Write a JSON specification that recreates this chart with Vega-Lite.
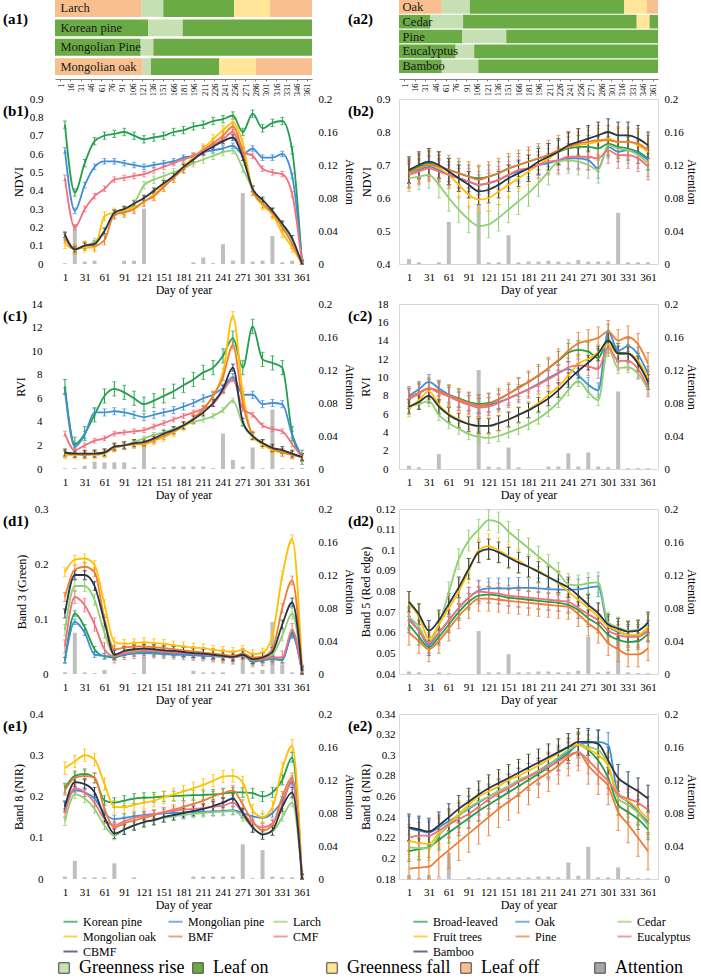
{
"$schema":"https://vega.github.io/schema/vega-lite/v6.json",
"padding":{"left":3,"top":0,"right":0,"bottom":0},
"autosize":{"type":"pad"},
"background":"white",
"config":{
 "view":{"stroke":null},
 "font":"Liberation Serif",
 "axis":{"labelFont":"Liberation Serif","titleFont":"Liberation Serif","labelFontSize":11,"titleFontSize":12,"titleFontWeight":"normal","labelColor":"#000","titleColor":"#000","grid":false,"ticks":false,"tickSize":0,"domain":false,"labelFlush":false,"labelOverlap":false},
 "range":{"category":["#21a04b","#3f8fd8","#92cf72","#ffc000","#ee7d31","#f2707c","#263548"]},
 "legend":{"labelFont":"Liberation Serif","labelColor":"#000"},
 "title":{"font":"Liberation Serif","fontSize":15,"fontWeight":"bold","color":"#000"}
},
"datasets":{
"b1":[
{"s":"a","d":1,"v":0.76},{"s":"a","d":16,"v":0.39},{"s":"a","d":31,"v":0.55},{"s":"a","d":46,"v":0.67},{"s":"a","d":61,"v":0.7},{"s":"a","d":76,"v":0.71},{"s":"a","d":91,"v":0.72},{"s":"a","d":106,"v":0.7},{"s":"a","d":121,"v":0.68},{"s":"a","d":136,"v":0.69},{"s":"a","d":151,"v":0.7},{"s":"a","d":166,"v":0.72},{"s":"a","d":181,"v":0.73},{"s":"a","d":196,"v":0.75},{"s":"a","d":211,"v":0.76},{"s":"a","d":226,"v":0.78},{"s":"a","d":241,"v":0.79},{"s":"a","d":256,"v":0.81},{"s":"a","d":271,"v":0.72},{"s":"a","d":286,"v":0.82},{"s":"a","d":301,"v":0.74},{"s":"a","d":316,"v":0.77},{"s":"a","d":331,"v":0.78},{"s":"a","d":346,"v":0.62},{"s":"a","d":361,"v":0},
{"s":"b","d":1,"v":0.62},{"s":"b","d":16,"v":0.29},{"s":"b","d":31,"v":0.43},{"s":"b","d":46,"v":0.53},{"s":"b","d":61,"v":0.56},{"s":"b","d":76,"v":0.56},{"s":"b","d":91,"v":0.55},{"s":"b","d":106,"v":0.54},{"s":"b","d":121,"v":0.53},{"s":"b","d":136,"v":0.54},{"s":"b","d":151,"v":0.55},{"s":"b","d":166,"v":0.56},{"s":"b","d":181,"v":0.58},{"s":"b","d":196,"v":0.59},{"s":"b","d":211,"v":0.61},{"s":"b","d":226,"v":0.62},{"s":"b","d":241,"v":0.63},{"s":"b","d":256,"v":0.645},{"s":"b","d":271,"v":0.6},{"s":"b","d":286,"v":0.63},{"s":"b","d":301,"v":0.58},{"s":"b","d":316,"v":0.58},{"s":"b","d":331,"v":0.6},{"s":"b","d":346,"v":0.48},{"s":"b","d":361,"v":0.01},
{"s":"c","d":1,"v":0.15},{"s":"c","d":16,"v":0.08},{"s":"c","d":31,"v":0.1},{"s":"c","d":46,"v":0.12},{"s":"c","d":61,"v":0.18},{"s":"c","d":76,"v":0.27},{"s":"c","d":91,"v":0.29},{"s":"c","d":106,"v":0.33},{"s":"c","d":121,"v":0.43},{"s":"c","d":136,"v":0.46},{"s":"c","d":151,"v":0.48},{"s":"c","d":166,"v":0.5},{"s":"c","d":181,"v":0.52},{"s":"c","d":196,"v":0.55},{"s":"c","d":211,"v":0.57},{"s":"c","d":226,"v":0.59},{"s":"c","d":241,"v":0.61},{"s":"c","d":256,"v":0.62},{"s":"c","d":271,"v":0.52},{"s":"c","d":286,"v":0.41},{"s":"c","d":301,"v":0.33},{"s":"c","d":316,"v":0.28},{"s":"c","d":331,"v":0.21},{"s":"c","d":346,"v":0.12},{"s":"c","d":361,"v":0},
{"s":"d","d":1,"v":0.11},{"s":"d","d":16,"v":0.08},{"s":"d","d":31,"v":0.09},{"s":"d","d":46,"v":0.09},{"s":"d","d":61,"v":0.26},{"s":"d","d":76,"v":0.28},{"s":"d","d":91,"v":0.29},{"s":"d","d":106,"v":0.31},{"s":"d","d":121,"v":0.34},{"s":"d","d":136,"v":0.38},{"s":"d","d":151,"v":0.43},{"s":"d","d":166,"v":0.48},{"s":"d","d":181,"v":0.53},{"s":"d","d":196,"v":0.58},{"s":"d","d":211,"v":0.63},{"s":"d","d":226,"v":0.68},{"s":"d","d":241,"v":0.73},{"s":"d","d":256,"v":0.77},{"s":"d","d":271,"v":0.66},{"s":"d","d":286,"v":0.4},{"s":"d","d":301,"v":0.32},{"s":"d","d":316,"v":0.27},{"s":"d","d":331,"v":0.17},{"s":"d","d":346,"v":0.09},{"s":"d","d":361,"v":0},
{"s":"e","d":1,"v":0.14},{"s":"e","d":16,"v":0.08},{"s":"e","d":31,"v":0.1},{"s":"e","d":46,"v":0.1},{"s":"e","d":61,"v":0.13},{"s":"e","d":76,"v":0.27},{"s":"e","d":91,"v":0.28},{"s":"e","d":106,"v":0.3},{"s":"e","d":121,"v":0.34},{"s":"e","d":136,"v":0.37},{"s":"e","d":151,"v":0.42},{"s":"e","d":166,"v":0.47},{"s":"e","d":181,"v":0.52},{"s":"e","d":196,"v":0.57},{"s":"e","d":211,"v":0.62},{"s":"e","d":226,"v":0.66},{"s":"e","d":241,"v":0.7},{"s":"e","d":256,"v":0.75},{"s":"e","d":271,"v":0.61},{"s":"e","d":286,"v":0.4},{"s":"e","d":301,"v":0.33},{"s":"e","d":316,"v":0.28},{"s":"e","d":331,"v":0.2},{"s":"e","d":346,"v":0.11},{"s":"e","d":361,"v":0},
{"s":"f","d":1,"v":0.47},{"s":"f","d":16,"v":0.2},{"s":"f","d":31,"v":0.3},{"s":"f","d":46,"v":0.37},{"s":"f","d":61,"v":0.41},{"s":"f","d":76,"v":0.46},{"s":"f","d":91,"v":0.47},{"s":"f","d":106,"v":0.48},{"s":"f","d":121,"v":0.49},{"s":"f","d":136,"v":0.51},{"s":"f","d":151,"v":0.53},{"s":"f","d":166,"v":0.55},{"s":"f","d":181,"v":0.57},{"s":"f","d":196,"v":0.59},{"s":"f","d":211,"v":0.62},{"s":"f","d":226,"v":0.65},{"s":"f","d":241,"v":0.68},{"s":"f","d":256,"v":0.72},{"s":"f","d":271,"v":0.61},{"s":"f","d":286,"v":0.59},{"s":"f","d":301,"v":0.52},{"s":"f","d":316,"v":0.5},{"s":"f","d":331,"v":0.49},{"s":"f","d":346,"v":0.38},{"s":"f","d":361,"v":0},
{"s":"g","d":1,"v":0.16},{"s":"g","d":16,"v":0.08},{"s":"g","d":31,"v":0.1},{"s":"g","d":46,"v":0.11},{"s":"g","d":61,"v":0.18},{"s":"g","d":76,"v":0.28},{"s":"g","d":91,"v":0.3},{"s":"g","d":106,"v":0.33},{"s":"g","d":121,"v":0.36},{"s":"g","d":136,"v":0.4},{"s":"g","d":151,"v":0.44},{"s":"g","d":166,"v":0.48},{"s":"g","d":181,"v":0.53},{"s":"g","d":196,"v":0.57},{"s":"g","d":211,"v":0.61},{"s":"g","d":226,"v":0.64},{"s":"g","d":241,"v":0.67},{"s":"g","d":256,"v":0.69},{"s":"g","d":271,"v":0.58},{"s":"g","d":286,"v":0.41},{"s":"g","d":301,"v":0.35},{"s":"g","d":316,"v":0.29},{"s":"g","d":331,"v":0.22},{"s":"g","d":346,"v":0.14},{"s":"g","d":361,"v":0}],
"b1e":[{"s":"a","e":0.02},{"s":"b","e":0.015},{"s":"c","e":0.02},{"s":"d","e":0.025},{"s":"e","e":0.025},{"s":"f","e":0.015},{"s":"g","e":0.015}],
"b1a":[{"d":1,"a":0.001},{"d":16,"a":0.048},{"d":31,"a":0.003},{"d":46,"a":0.004},{"d":61,"a":0},{"d":76,"a":0},{"d":91,"a":0.004},{"d":106,"a":0.004},{"d":121,"a":0.067},{"d":136,"a":0},{"d":151,"a":0},{"d":166,"a":0},{"d":181,"a":0},{"d":196,"a":0.002},{"d":211,"a":0.008},{"d":226,"a":0.001},{"d":241,"a":0.024},{"d":256,"a":0.004},{"d":271,"a":0.086},{"d":286,"a":0.003},{"d":301,"a":0.004},{"d":316,"a":0.034},{"d":331,"a":0.002},{"d":346,"a":0.004},{"d":361,"a":0.002}],
"b2":[
{"s":"a","d":1,"v":0.68},{"s":"a","d":16,"v":0.695},{"s":"a","d":31,"v":0.705},{"s":"a","d":46,"v":0.695},{"s":"a","d":61,"v":0.685},{"s":"a","d":76,"v":0.675},{"s":"a","d":91,"v":0.665},{"s":"a","d":106,"v":0.66},{"s":"a","d":121,"v":0.665},{"s":"a","d":136,"v":0.675},{"s":"a","d":151,"v":0.69},{"s":"a","d":166,"v":0.7},{"s":"a","d":181,"v":0.71},{"s":"a","d":196,"v":0.72},{"s":"a","d":211,"v":0.73},{"s":"a","d":226,"v":0.74},{"s":"a","d":241,"v":0.75},{"s":"a","d":256,"v":0.755},{"s":"a","d":271,"v":0.755},{"s":"a","d":286,"v":0.75},{"s":"a","d":301,"v":0.765},{"s":"a","d":316,"v":0.755},{"s":"a","d":331,"v":0.75},{"s":"a","d":346,"v":0.74},{"s":"a","d":361,"v":0.72},
{"s":"b","d":1,"v":0.675},{"s":"b","d":16,"v":0.685},{"s":"b","d":31,"v":0.695},{"s":"b","d":46,"v":0.685},{"s":"b","d":61,"v":0.67},{"s":"b","d":76,"v":0.66},{"s":"b","d":91,"v":0.65},{"s":"b","d":106,"v":0.64},{"s":"b","d":121,"v":0.645},{"s":"b","d":136,"v":0.655},{"s":"b","d":151,"v":0.67},{"s":"b","d":166,"v":0.68},{"s":"b","d":181,"v":0.69},{"s":"b","d":196,"v":0.7},{"s":"b","d":211,"v":0.705},{"s":"b","d":226,"v":0.715},{"s":"b","d":241,"v":0.72},{"s":"b","d":256,"v":0.72},{"s":"b","d":271,"v":0.715},{"s":"b","d":286,"v":0.69},{"s":"b","d":301,"v":0.755},{"s":"b","d":316,"v":0.74},{"s":"b","d":331,"v":0.745},{"s":"b","d":346,"v":0.735},{"s":"b","d":361,"v":0.715},
{"s":"c","d":1,"v":0.66},{"s":"c","d":16,"v":0.665},{"s":"c","d":31,"v":0.67},{"s":"c","d":46,"v":0.64},{"s":"c","d":61,"v":0.6},{"s":"c","d":76,"v":0.565},{"s":"c","d":91,"v":0.535},{"s":"c","d":106,"v":0.515},{"s":"c","d":121,"v":0.52},{"s":"c","d":136,"v":0.54},{"s":"c","d":151,"v":0.565},{"s":"c","d":166,"v":0.59},{"s":"c","d":181,"v":0.615},{"s":"c","d":196,"v":0.645},{"s":"c","d":211,"v":0.68},{"s":"c","d":226,"v":0.71},{"s":"c","d":241,"v":0.715},{"s":"c","d":256,"v":0.71},{"s":"c","d":271,"v":0.7},{"s":"c","d":286,"v":0.685},{"s":"c","d":301,"v":0.76},{"s":"c","d":316,"v":0.75},{"s":"c","d":331,"v":0.745},{"s":"c","d":346,"v":0.73},{"s":"c","d":361,"v":0.705},
{"s":"d","d":1,"v":0.675},{"s":"d","d":16,"v":0.69},{"s":"d","d":31,"v":0.7},{"s":"d","d":46,"v":0.69},{"s":"d","d":61,"v":0.67},{"s":"d","d":76,"v":0.64},{"s":"d","d":91,"v":0.61},{"s":"d","d":106,"v":0.595},{"s":"d","d":121,"v":0.6},{"s":"d","d":136,"v":0.62},{"s":"d","d":151,"v":0.64},{"s":"d","d":166,"v":0.66},{"s":"d","d":181,"v":0.68},{"s":"d","d":196,"v":0.7},{"s":"d","d":211,"v":0.72},{"s":"d","d":226,"v":0.74},{"s":"d","d":241,"v":0.755},{"s":"d","d":256,"v":0.76},{"s":"d","d":271,"v":0.765},{"s":"d","d":286,"v":0.77},{"s":"d","d":301,"v":0.78},{"s":"d","d":316,"v":0.77},{"s":"d","d":331,"v":0.77},{"s":"d","d":346,"v":0.76},{"s":"d","d":361,"v":0.74},
{"s":"e","d":1,"v":0.675},{"s":"e","d":16,"v":0.69},{"s":"e","d":31,"v":0.7},{"s":"e","d":46,"v":0.695},{"s":"e","d":61,"v":0.685},{"s":"e","d":76,"v":0.675},{"s":"e","d":91,"v":0.665},{"s":"e","d":106,"v":0.655},{"s":"e","d":121,"v":0.665},{"s":"e","d":136,"v":0.675},{"s":"e","d":151,"v":0.69},{"s":"e","d":166,"v":0.7},{"s":"e","d":181,"v":0.71},{"s":"e","d":196,"v":0.72},{"s":"e","d":211,"v":0.73},{"s":"e","d":226,"v":0.745},{"s":"e","d":241,"v":0.755},{"s":"e","d":256,"v":0.765},{"s":"e","d":271,"v":0.77},{"s":"e","d":286,"v":0.775},{"s":"e","d":301,"v":0.775},{"s":"e","d":316,"v":0.77},{"s":"e","d":331,"v":0.77},{"s":"e","d":346,"v":0.765},{"s":"e","d":361,"v":0.745},
{"s":"f","d":1,"v":0.67},{"s":"f","d":16,"v":0.68},{"s":"f","d":31,"v":0.69},{"s":"f","d":46,"v":0.68},{"s":"f","d":61,"v":0.67},{"s":"f","d":76,"v":0.66},{"s":"f","d":91,"v":0.65},{"s":"f","d":106,"v":0.64},{"s":"f","d":121,"v":0.645},{"s":"f","d":136,"v":0.655},{"s":"f","d":151,"v":0.67},{"s":"f","d":166,"v":0.685},{"s":"f","d":181,"v":0.69},{"s":"f","d":196,"v":0.7},{"s":"f","d":211,"v":0.71},{"s":"f","d":226,"v":0.715},{"s":"f","d":241,"v":0.725},{"s":"f","d":256,"v":0.725},{"s":"f","d":271,"v":0.725},{"s":"f","d":286,"v":0.72},{"s":"f","d":301,"v":0.745},{"s":"f","d":316,"v":0.73},{"s":"f","d":331,"v":0.73},{"s":"f","d":346,"v":0.72},{"s":"f","d":361,"v":0.695},
{"s":"g","d":1,"v":0.685},{"s":"g","d":16,"v":0.7},{"s":"g","d":31,"v":0.71},{"s":"g","d":46,"v":0.7},{"s":"g","d":61,"v":0.68},{"s":"g","d":76,"v":0.66},{"s":"g","d":91,"v":0.64},{"s":"g","d":106,"v":0.62},{"s":"g","d":121,"v":0.625},{"s":"g","d":136,"v":0.64},{"s":"g","d":151,"v":0.66},{"s":"g","d":166,"v":0.675},{"s":"g","d":181,"v":0.69},{"s":"g","d":196,"v":0.71},{"s":"g","d":211,"v":0.725},{"s":"g","d":226,"v":0.74},{"s":"g","d":241,"v":0.76},{"s":"g","d":256,"v":0.77},{"s":"g","d":271,"v":0.78},{"s":"g","d":286,"v":0.79},{"s":"g","d":301,"v":0.8},{"s":"g","d":316,"v":0.79},{"s":"g","d":331,"v":0.79},{"s":"g","d":346,"v":0.78},{"s":"g","d":361,"v":0.76}],
"b2e":[{"s":"a","e":0.035},{"s":"b","e":0.03},{"s":"c","e":0.04},{"s":"d","e":0.04},{"s":"e","e":0.045},{"s":"f","e":0.04},{"s":"g","e":0.04}],
"b2a":[{"d":1,"a":0.006},{"d":16,"a":0.002},{"d":31,"a":0},{"d":46,"a":0.002},{"d":61,"a":0.051},{"d":76,"a":0},{"d":91,"a":0},{"d":106,"a":0.072},{"d":121,"a":0.002},{"d":136,"a":0.002},{"d":151,"a":0.035},{"d":166,"a":0.002},{"d":181,"a":0.003},{"d":196,"a":0.003},{"d":211,"a":0.004},{"d":226,"a":0.003},{"d":241,"a":0.002},{"d":256,"a":0.005},{"d":271,"a":0.003},{"d":286,"a":0.003},{"d":301,"a":0.003},{"d":316,"a":0.062},{"d":331,"a":0.002},{"d":346,"a":0.002},{"d":361,"a":0.002}],
"c1":[
{"s":"a","d":1,"v":7},{"s":"a","d":16,"v":2.1},{"s":"a","d":31,"v":3},{"s":"a","d":46,"v":4.6},{"s":"a","d":61,"v":6.2},{"s":"a","d":76,"v":6.8},{"s":"a","d":91,"v":6.5},{"s":"a","d":106,"v":6},{"s":"a","d":121,"v":5.5},{"s":"a","d":136,"v":5.8},{"s":"a","d":151,"v":6.2},{"s":"a","d":166,"v":6.6},{"s":"a","d":181,"v":7.1},{"s":"a","d":196,"v":7.6},{"s":"a","d":211,"v":8.2},{"s":"a","d":226,"v":8.6},{"s":"a","d":241,"v":9.6},{"s":"a","d":256,"v":11.1},{"s":"a","d":271,"v":8.6},{"s":"a","d":286,"v":12.1},{"s":"a","d":301,"v":9.3},{"s":"a","d":316,"v":9},{"s":"a","d":331,"v":8.6},{"s":"a","d":346,"v":3},{"s":"a","d":361,"v":1},
{"s":"b","d":1,"v":6.6},{"s":"b","d":16,"v":1.9},{"s":"b","d":31,"v":2.9},{"s":"b","d":46,"v":4.8},{"s":"b","d":61,"v":4.8},{"s":"b","d":76,"v":4.9},{"s":"b","d":91,"v":4.8},{"s":"b","d":106,"v":4.6},{"s":"b","d":121,"v":4.4},{"s":"b","d":136,"v":4.6},{"s":"b","d":151,"v":4.8},{"s":"b","d":166,"v":5},{"s":"b","d":181,"v":5.3},{"s":"b","d":196,"v":5.6},{"s":"b","d":211,"v":6},{"s":"b","d":226,"v":6.3},{"s":"b","d":241,"v":6.9},{"s":"b","d":256,"v":7.8},{"s":"b","d":271,"v":6.3},{"s":"b","d":286,"v":6.3},{"s":"b","d":301,"v":5.5},{"s":"b","d":316,"v":5.6},{"s":"b","d":331,"v":5.5},{"s":"b","d":346,"v":2.9},{"s":"b","d":361,"v":1},
{"s":"c","d":1,"v":1.3},{"s":"c","d":16,"v":1.2},{"s":"c","d":31,"v":1.2},{"s":"c","d":46,"v":1.3},{"s":"c","d":61,"v":1.4},{"s":"c","d":76,"v":1.8},{"s":"c","d":91,"v":2},{"s":"c","d":106,"v":2.3},{"s":"c","d":121,"v":2.6},{"s":"c","d":136,"v":2.9},{"s":"c","d":151,"v":3.1},{"s":"c","d":166,"v":3.4},{"s":"c","d":181,"v":3.7},{"s":"c","d":196,"v":4},{"s":"c","d":211,"v":4.2},{"s":"c","d":226,"v":4.5},{"s":"c","d":241,"v":5},{"s":"c","d":256,"v":5.8},{"s":"c","d":271,"v":3.8},{"s":"c","d":286,"v":2.7},{"s":"c","d":301,"v":2.2},{"s":"c","d":316,"v":1.8},{"s":"c","d":331,"v":1.5},{"s":"c","d":346,"v":1.3},{"s":"c","d":361,"v":1},
{"s":"d","d":1,"v":1.2},{"s":"d","d":16,"v":1.2},{"s":"d","d":31,"v":1.2},{"s":"d","d":46,"v":1.2},{"s":"d","d":61,"v":1.3},{"s":"d","d":76,"v":1.8},{"s":"d","d":91,"v":2},{"s":"d","d":106,"v":2.1},{"s":"d","d":121,"v":2.1},{"s":"d","d":136,"v":2.4},{"s":"d","d":151,"v":2.7},{"s":"d","d":166,"v":3.1},{"s":"d","d":181,"v":3.6},{"s":"d","d":196,"v":4.2},{"s":"d","d":211,"v":5},{"s":"d","d":226,"v":6.2},{"s":"d","d":241,"v":8.2},{"s":"d","d":256,"v":13},{"s":"d","d":271,"v":6.5},{"s":"d","d":286,"v":2.8},{"s":"d","d":301,"v":2.1},{"s":"d","d":316,"v":1.6},{"s":"d","d":331,"v":1.4},{"s":"d","d":346,"v":1.2},{"s":"d","d":361,"v":1},
{"s":"e","d":1,"v":1.3},{"s":"e","d":16,"v":1.3},{"s":"e","d":31,"v":1.2},{"s":"e","d":46,"v":1.3},{"s":"e","d":61,"v":1.4},{"s":"e","d":76,"v":1.8},{"s":"e","d":91,"v":2},{"s":"e","d":106,"v":2.1},{"s":"e","d":121,"v":2.2},{"s":"e","d":136,"v":2.5},{"s":"e","d":151,"v":2.8},{"s":"e","d":166,"v":3.2},{"s":"e","d":181,"v":3.7},{"s":"e","d":196,"v":4.3},{"s":"e","d":211,"v":5.1},{"s":"e","d":226,"v":6.2},{"s":"e","d":241,"v":7.8},{"s":"e","d":256,"v":10.5},{"s":"e","d":271,"v":5.6},{"s":"e","d":286,"v":2.9},{"s":"e","d":301,"v":2.2},{"s":"e","d":316,"v":1.7},{"s":"e","d":331,"v":1.4},{"s":"e","d":346,"v":1.2},{"s":"e","d":361,"v":1},
{"s":"f","d":1,"v":3},{"s":"f","d":16,"v":1.6},{"s":"f","d":31,"v":2},{"s":"f","d":46,"v":2.4},{"s":"f","d":61,"v":2.6},{"s":"f","d":76,"v":3},{"s":"f","d":91,"v":3.1},{"s":"f","d":106,"v":3.2},{"s":"f","d":121,"v":3.3},{"s":"f","d":136,"v":3.6},{"s":"f","d":151,"v":3.9},{"s":"f","d":166,"v":4.2},{"s":"f","d":181,"v":4.5},{"s":"f","d":196,"v":4.8},{"s":"f","d":211,"v":5.1},{"s":"f","d":226,"v":5.5},{"s":"f","d":241,"v":6.6},{"s":"f","d":256,"v":7.6},{"s":"f","d":271,"v":5.1},{"s":"f","d":286,"v":4.6},{"s":"f","d":301,"v":3.7},{"s":"f","d":316,"v":3.4},{"s":"f","d":331,"v":3.2},{"s":"f","d":346,"v":2.1},{"s":"f","d":361,"v":1},
{"s":"g","d":1,"v":1.4},{"s":"g","d":16,"v":1.3},{"s":"g","d":31,"v":1.3},{"s":"g","d":46,"v":1.3},{"s":"g","d":61,"v":1.4},{"s":"g","d":76,"v":1.9},{"s":"g","d":91,"v":2},{"s":"g","d":106,"v":2.2},{"s":"g","d":121,"v":2.3},{"s":"g","d":136,"v":2.6},{"s":"g","d":151,"v":3},{"s":"g","d":166,"v":3.3},{"s":"g","d":181,"v":3.7},{"s":"g","d":196,"v":4.2},{"s":"g","d":211,"v":4.8},{"s":"g","d":226,"v":5.6},{"s":"g","d":241,"v":6.8},{"s":"g","d":256,"v":8.6},{"s":"g","d":271,"v":4},{"s":"g","d":286,"v":2.8},{"s":"g","d":301,"v":2.2},{"s":"g","d":316,"v":1.8},{"s":"g","d":331,"v":1.6},{"s":"g","d":346,"v":1.3},{"s":"g","d":361,"v":1}],
"c1e":[{"s":"a","e":0.6},{"s":"b","e":0.3},{"s":"c","e":0.2},{"s":"d","e":0.35},{"s":"e","e":0.3},{"s":"f","e":0.2},{"s":"g","e":0.3}],
"c1a":[{"d":1,"a":0.001},{"d":16,"a":0.001},{"d":31,"a":0.004},{"d":46,"a":0.009},{"d":61,"a":0.008},{"d":76,"a":0.008},{"d":91,"a":0.008},{"d":106,"a":0.002},{"d":121,"a":0.03},{"d":136,"a":0.002},{"d":151,"a":0.002},{"d":166,"a":0.003},{"d":181,"a":0.003},{"d":196,"a":0.003},{"d":211,"a":0.003},{"d":226,"a":0.001},{"d":241,"a":0.043},{"d":256,"a":0.011},{"d":271,"a":0.003},{"d":286,"a":0.026},{"d":301,"a":0.001},{"d":316,"a":0.072},{"d":331,"a":0.001},{"d":346,"a":0.001},{"d":361,"a":0.001}],
"c2":[
{"s":"a","d":1,"v":7.8},{"s":"a","d":16,"v":8.3},{"s":"a","d":31,"v":8.8},{"s":"a","d":46,"v":8.5},{"s":"a","d":61,"v":8.1},{"s":"a","d":76,"v":7.7},{"s":"a","d":91,"v":7.3},{"s":"a","d":106,"v":7.1},{"s":"a","d":121,"v":7.2},{"s":"a","d":136,"v":7.6},{"s":"a","d":151,"v":8.2},{"s":"a","d":166,"v":8.9},{"s":"a","d":181,"v":9.5},{"s":"a","d":196,"v":10.2},{"s":"a","d":211,"v":11},{"s":"a","d":226,"v":11.8},{"s":"a","d":241,"v":12.7},{"s":"a","d":256,"v":13},{"s":"a","d":271,"v":12.8},{"s":"a","d":286,"v":12.1},{"s":"a","d":301,"v":14.1},{"s":"a","d":316,"v":12.7},{"s":"a","d":331,"v":12.6},{"s":"a","d":346,"v":11.6},{"s":"a","d":361,"v":9.7},
{"s":"b","d":1,"v":8},{"s":"b","d":16,"v":8.7},{"s":"b","d":31,"v":9.5},{"s":"b","d":46,"v":8.8},{"s":"b","d":61,"v":8.1},{"s":"b","d":76,"v":7.6},{"s":"b","d":91,"v":7.2},{"s":"b","d":106,"v":6.9},{"s":"b","d":121,"v":7},{"s":"b","d":136,"v":7.3},{"s":"b","d":151,"v":7.7},{"s":"b","d":166,"v":8.2},{"s":"b","d":181,"v":8.7},{"s":"b","d":196,"v":9.3},{"s":"b","d":211,"v":9.9},{"s":"b","d":226,"v":10.5},{"s":"b","d":241,"v":10.9},{"s":"b","d":256,"v":10.2},{"s":"b","d":271,"v":9.2},{"s":"b","d":286,"v":8.6},{"s":"b","d":301,"v":15},{"s":"b","d":316,"v":12.9},{"s":"b","d":331,"v":13.4},{"s":"b","d":346,"v":12.5},{"s":"b","d":361,"v":10.4},
{"s":"c","d":1,"v":6.8},{"s":"c","d":16,"v":7.1},{"s":"c","d":31,"v":7.4},{"s":"c","d":46,"v":5.9},{"s":"c","d":61,"v":5},{"s":"c","d":76,"v":4.4},{"s":"c","d":91,"v":3.8},{"s":"c","d":106,"v":3.5},{"s":"c","d":121,"v":3.4},{"s":"c","d":136,"v":3.6},{"s":"c","d":151,"v":4},{"s":"c","d":166,"v":4.4},{"s":"c","d":181,"v":4.9},{"s":"c","d":196,"v":5.5},{"s":"c","d":211,"v":6.3},{"s":"c","d":226,"v":7.3},{"s":"c","d":241,"v":8.6},{"s":"c","d":256,"v":9.6},{"s":"c","d":271,"v":8.4},{"s":"c","d":286,"v":7.5},{"s":"c","d":301,"v":13.2},{"s":"c","d":316,"v":11},{"s":"c","d":331,"v":11.1},{"s":"c","d":346,"v":10.4},{"s":"c","d":361,"v":8.7},
{"s":"d","d":1,"v":6.6},{"s":"d","d":16,"v":7.5},{"s":"d","d":31,"v":8.5},{"s":"d","d":46,"v":7},{"s":"d","d":61,"v":6},{"s":"d","d":76,"v":5.4},{"s":"d","d":91,"v":4.9},{"s":"d","d":106,"v":4.7},{"s":"d","d":121,"v":4.7},{"s":"d","d":136,"v":5},{"s":"d","d":151,"v":5.4},{"s":"d","d":166,"v":5.9},{"s":"d","d":181,"v":6.5},{"s":"d","d":196,"v":7.2},{"s":"d","d":211,"v":8.1},{"s":"d","d":226,"v":9},{"s":"d","d":241,"v":10.2},{"s":"d","d":256,"v":11.5},{"s":"d","d":271,"v":12},{"s":"d","d":286,"v":12.7},{"s":"d","d":301,"v":13.6},{"s":"d","d":316,"v":12.5},{"s":"d","d":331,"v":12.6},{"s":"d","d":346,"v":11.8},{"s":"d","d":361,"v":9.9},
{"s":"e","d":1,"v":7.8},{"s":"e","d":16,"v":8.3},{"s":"e","d":31,"v":8.8},{"s":"e","d":46,"v":8.5},{"s":"e","d":61,"v":8},{"s":"e","d":76,"v":7.6},{"s":"e","d":91,"v":7.2},{"s":"e","d":106,"v":6.9},{"s":"e","d":121,"v":7.1},{"s":"e","d":136,"v":7.6},{"s":"e","d":151,"v":8.2},{"s":"e","d":166,"v":8.8},{"s":"e","d":181,"v":9.5},{"s":"e","d":196,"v":10.2},{"s":"e","d":211,"v":11},{"s":"e","d":226,"v":11.9},{"s":"e","d":241,"v":12.9},{"s":"e","d":256,"v":13.7},{"s":"e","d":271,"v":14},{"s":"e","d":286,"v":14.3},{"s":"e","d":301,"v":15},{"s":"e","d":316,"v":14},{"s":"e","d":331,"v":14.4},{"s":"e","d":346,"v":13.6},{"s":"e","d":361,"v":11.5},
{"s":"f","d":1,"v":7.6},{"s":"f","d":16,"v":8.2},{"s":"f","d":31,"v":8.8},{"s":"f","d":46,"v":8.3},{"s":"f","d":61,"v":7.9},{"s":"f","d":76,"v":7.4},{"s":"f","d":91,"v":7},{"s":"f","d":106,"v":6.7},{"s":"f","d":121,"v":6.8},{"s":"f","d":136,"v":7.2},{"s":"f","d":151,"v":7.7},{"s":"f","d":166,"v":8.2},{"s":"f","d":181,"v":8.7},{"s":"f","d":196,"v":9.2},{"s":"f","d":211,"v":9.8},{"s":"f","d":226,"v":10.4},{"s":"f","d":241,"v":11.1},{"s":"f","d":256,"v":11.3},{"s":"f","d":271,"v":11.2},{"s":"f","d":286,"v":10.9},{"s":"f","d":301,"v":13.3},{"s":"f","d":316,"v":11.8},{"s":"f","d":331,"v":11.8},{"s":"f","d":346,"v":10.9},{"s":"f","d":361,"v":8.9},
{"s":"g","d":1,"v":6.8},{"s":"g","d":16,"v":7.3},{"s":"g","d":31,"v":8},{"s":"g","d":46,"v":6.8},{"s":"g","d":61,"v":5.9},{"s":"g","d":76,"v":5.3},{"s":"g","d":91,"v":4.9},{"s":"g","d":106,"v":4.7},{"s":"g","d":121,"v":4.7},{"s":"g","d":136,"v":5},{"s":"g","d":151,"v":5.4},{"s":"g","d":166,"v":5.9},{"s":"g","d":181,"v":6.4},{"s":"g","d":196,"v":7},{"s":"g","d":211,"v":7.7},{"s":"g","d":226,"v":8.6},{"s":"g","d":241,"v":9.7},{"s":"g","d":256,"v":10.7},{"s":"g","d":271,"v":11.6},{"s":"g","d":286,"v":12.6},{"s":"g","d":301,"v":14},{"s":"g","d":316,"v":12.6},{"s":"g","d":331,"v":12.6},{"s":"g","d":346,"v":11.5},{"s":"g","d":361,"v":9.5}],
"c2e":[{"s":"a","e":1},{"s":"b","e":0.8},{"s":"c","e":0.6},{"s":"d","e":0.9},{"s":"e","e":1.2},{"s":"f","e":1},{"s":"g","e":0.8}],
"c2a":[{"d":1,"a":0.004},{"d":16,"a":0.002},{"d":31,"a":0},{"d":46,"a":0.018},{"d":61,"a":0},{"d":76,"a":0},{"d":91,"a":0},{"d":106,"a":0.12},{"d":121,"a":0.003},{"d":136,"a":0.002},{"d":151,"a":0.026},{"d":166,"a":0.002},{"d":181,"a":0},{"d":196,"a":0},{"d":211,"a":0.003},{"d":226,"a":0.003},{"d":241,"a":0.019},{"d":256,"a":0.003},{"d":271,"a":0.02},{"d":286,"a":0.003},{"d":301,"a":0.002},{"d":316,"a":0.094},{"d":331,"a":0.001},{"d":346,"a":0.001},{"d":361,"a":0.001}],
"d1":[
{"s":"a","d":1,"v":0.025},{"s":"a","d":16,"v":0.11},{"s":"a","d":31,"v":0.085},{"s":"a","d":46,"v":0.045},{"s":"a","d":61,"v":0.032},{"s":"a","d":76,"v":0.03},{"s":"a","d":91,"v":0.035},{"s":"a","d":106,"v":0.038},{"s":"a","d":121,"v":0.04},{"s":"a","d":136,"v":0.039},{"s":"a","d":151,"v":0.038},{"s":"a","d":166,"v":0.037},{"s":"a","d":181,"v":0.036},{"s":"a","d":196,"v":0.035},{"s":"a","d":211,"v":0.034},{"s":"a","d":226,"v":0.033},{"s":"a","d":241,"v":0.032},{"s":"a","d":256,"v":0.031},{"s":"a","d":271,"v":0.035},{"s":"a","d":286,"v":0.022},{"s":"a","d":301,"v":0.025},{"s":"a","d":316,"v":0.027},{"s":"a","d":331,"v":0.025},{"s":"a","d":346,"v":0.075},{"s":"a","d":361,"v":0.003},
{"s":"b","d":1,"v":0.025},{"s":"b","d":16,"v":0.095},{"s":"b","d":31,"v":0.075},{"s":"b","d":46,"v":0.035},{"s":"b","d":61,"v":0.033},{"s":"b","d":76,"v":0.032},{"s":"b","d":91,"v":0.035},{"s":"b","d":106,"v":0.037},{"s":"b","d":121,"v":0.038},{"s":"b","d":136,"v":0.037},{"s":"b","d":151,"v":0.036},{"s":"b","d":166,"v":0.035},{"s":"b","d":181,"v":0.035},{"s":"b","d":196,"v":0.034},{"s":"b","d":211,"v":0.033},{"s":"b","d":226,"v":0.032},{"s":"b","d":241,"v":0.031},{"s":"b","d":256,"v":0.03},{"s":"b","d":271,"v":0.033},{"s":"b","d":286,"v":0.024},{"s":"b","d":301,"v":0.026},{"s":"b","d":316,"v":0.028},{"s":"b","d":331,"v":0.026},{"s":"b","d":346,"v":0.07},{"s":"b","d":361,"v":0.003},
{"s":"c","d":1,"v":0.08},{"s":"c","d":16,"v":0.16},{"s":"c","d":31,"v":0.16},{"s":"c","d":46,"v":0.135},{"s":"c","d":61,"v":0.075},{"s":"c","d":76,"v":0.035},{"s":"c","d":91,"v":0.04},{"s":"c","d":106,"v":0.042},{"s":"c","d":121,"v":0.044},{"s":"c","d":136,"v":0.043},{"s":"c","d":151,"v":0.041},{"s":"c","d":166,"v":0.04},{"s":"c","d":181,"v":0.039},{"s":"c","d":196,"v":0.037},{"s":"c","d":211,"v":0.036},{"s":"c","d":226,"v":0.034},{"s":"c","d":241,"v":0.032},{"s":"c","d":256,"v":0.03},{"s":"c","d":271,"v":0.034},{"s":"c","d":286,"v":0.026},{"s":"c","d":301,"v":0.028},{"s":"c","d":316,"v":0.035},{"s":"c","d":331,"v":0.07},{"s":"c","d":346,"v":0.11},{"s":"c","d":361,"v":0.004},
{"s":"d","d":1,"v":0.185},{"s":"d","d":16,"v":0.208},{"s":"d","d":31,"v":0.21},{"s":"d","d":46,"v":0.198},{"s":"d","d":61,"v":0.127},{"s":"d","d":76,"v":0.058},{"s":"d","d":91,"v":0.055},{"s":"d","d":106,"v":0.056},{"s":"d","d":121,"v":0.058},{"s":"d","d":136,"v":0.056},{"s":"d","d":151,"v":0.055},{"s":"d","d":166,"v":0.052},{"s":"d","d":181,"v":0.05},{"s":"d","d":196,"v":0.048},{"s":"d","d":211,"v":0.047},{"s":"d","d":226,"v":0.044},{"s":"d","d":241,"v":0.042},{"s":"d","d":256,"v":0.04},{"s":"d","d":271,"v":0.044},{"s":"d","d":286,"v":0.036},{"s":"d","d":301,"v":0.039},{"s":"d","d":316,"v":0.07},{"s":"d","d":331,"v":0.179},{"s":"d","d":346,"v":0.245},{"s":"d","d":361,"v":0.009},
{"s":"e","d":1,"v":0.14},{"s":"e","d":16,"v":0.19},{"s":"e","d":31,"v":0.195},{"s":"e","d":46,"v":0.185},{"s":"e","d":61,"v":0.1},{"s":"e","d":76,"v":0.045},{"s":"e","d":91,"v":0.048},{"s":"e","d":106,"v":0.05},{"s":"e","d":121,"v":0.05},{"s":"e","d":136,"v":0.049},{"s":"e","d":151,"v":0.047},{"s":"e","d":166,"v":0.045},{"s":"e","d":181,"v":0.043},{"s":"e","d":196,"v":0.041},{"s":"e","d":211,"v":0.039},{"s":"e","d":226,"v":0.037},{"s":"e","d":241,"v":0.035},{"s":"e","d":256,"v":0.033},{"s":"e","d":271,"v":0.037},{"s":"e","d":286,"v":0.03},{"s":"e","d":301,"v":0.032},{"s":"e","d":316,"v":0.045},{"s":"e","d":331,"v":0.12},{"s":"e","d":346,"v":0.17},{"s":"e","d":361,"v":0.005},
{"s":"f","d":1,"v":0.05},{"s":"f","d":16,"v":0.14},{"s":"f","d":31,"v":0.125},{"s":"f","d":46,"v":0.09},{"s":"f","d":61,"v":0.045},{"s":"f","d":76,"v":0.032},{"s":"f","d":91,"v":0.038},{"s":"f","d":106,"v":0.04},{"s":"f","d":121,"v":0.042},{"s":"f","d":136,"v":0.041},{"s":"f","d":151,"v":0.04},{"s":"f","d":166,"v":0.039},{"s":"f","d":181,"v":0.038},{"s":"f","d":196,"v":0.037},{"s":"f","d":211,"v":0.036},{"s":"f","d":226,"v":0.034},{"s":"f","d":241,"v":0.032},{"s":"f","d":256,"v":0.03},{"s":"f","d":271,"v":0.034},{"s":"f","d":286,"v":0.025},{"s":"f","d":301,"v":0.027},{"s":"f","d":316,"v":0.03},{"s":"f","d":331,"v":0.03},{"s":"f","d":346,"v":0.08},{"s":"f","d":361,"v":0.003},
{"s":"g","d":1,"v":0.11},{"s":"g","d":16,"v":0.18},{"s":"g","d":31,"v":0.18},{"s":"g","d":46,"v":0.16},{"s":"g","d":61,"v":0.095},{"s":"g","d":76,"v":0.035},{"s":"g","d":91,"v":0.042},{"s":"g","d":106,"v":0.045},{"s":"g","d":121,"v":0.046},{"s":"g","d":136,"v":0.045},{"s":"g","d":151,"v":0.043},{"s":"g","d":166,"v":0.042},{"s":"g","d":181,"v":0.04},{"s":"g","d":196,"v":0.038},{"s":"g","d":211,"v":0.037},{"s":"g","d":226,"v":0.035},{"s":"g","d":241,"v":0.033},{"s":"g","d":256,"v":0.031},{"s":"g","d":271,"v":0.035},{"s":"g","d":286,"v":0.027},{"s":"g","d":301,"v":0.03},{"s":"g","d":316,"v":0.04},{"s":"g","d":331,"v":0.09},{"s":"g","d":346,"v":0.13},{"s":"g","d":361,"v":0.005}],
"d1e":[{"s":"a","e":0.005},{"s":"b","e":0.005},{"s":"c","e":0.01},{"s":"d","e":0.008},{"s":"e","e":0.008},{"s":"f","e":0.012},{"s":"g","e":0.008}],
"d1a":[{"d":1,"a":0.002},{"d":16,"a":0.05},{"d":31,"a":0.002},{"d":46,"a":0.001},{"d":61,"a":0.005},{"d":76,"a":0},{"d":91,"a":0},{"d":106,"a":0.001},{"d":121,"a":0.02},{"d":136,"a":0},{"d":151,"a":0},{"d":166,"a":0},{"d":181,"a":0},{"d":196,"a":0.004},{"d":211,"a":0.002},{"d":226,"a":0.002},{"d":241,"a":0.002},{"d":256,"a":0},{"d":271,"a":0.014},{"d":286,"a":0.002},{"d":301,"a":0.005},{"d":316,"a":0.063},{"d":331,"a":0.011},{"d":346,"a":0.002},{"d":361,"a":0.009}],
"d2":[
{"s":"a","d":1,"v":0.064},{"s":"a","d":16,"v":0.058},{"s":"a","d":31,"v":0.053},{"s":"a","d":46,"v":0.058},{"s":"a","d":61,"v":0.064},{"s":"a","d":76,"v":0.07},{"s":"a","d":91,"v":0.075},{"s":"a","d":106,"v":0.078},{"s":"a","d":121,"v":0.0785},{"s":"a","d":136,"v":0.078},{"s":"a","d":151,"v":0.077},{"s":"a","d":166,"v":0.0765},{"s":"a","d":181,"v":0.076},{"s":"a","d":196,"v":0.0755},{"s":"a","d":211,"v":0.075},{"s":"a","d":226,"v":0.0745},{"s":"a","d":241,"v":0.0735},{"s":"a","d":256,"v":0.071},{"s":"a","d":271,"v":0.067},{"s":"a","d":286,"v":0.064},{"s":"a","d":301,"v":0.059},{"s":"a","d":316,"v":0.0565},{"s":"a","d":331,"v":0.0555},{"s":"a","d":346,"v":0.056},{"s":"a","d":361,"v":0.0595},
{"s":"b","d":1,"v":0.067},{"s":"b","d":16,"v":0.061},{"s":"b","d":31,"v":0.054},{"s":"b","d":46,"v":0.06},{"s":"b","d":61,"v":0.066},{"s":"b","d":76,"v":0.072},{"s":"b","d":91,"v":0.077},{"s":"b","d":106,"v":0.0805},{"s":"b","d":121,"v":0.0815},{"s":"b","d":136,"v":0.0815},{"s":"b","d":151,"v":0.0815},{"s":"b","d":166,"v":0.0818},{"s":"b","d":181,"v":0.0818},{"s":"b","d":196,"v":0.0815},{"s":"b","d":211,"v":0.0812},{"s":"b","d":226,"v":0.081},{"s":"b","d":241,"v":0.0808},{"s":"b","d":256,"v":0.081},{"s":"b","d":271,"v":0.0818},{"s":"b","d":286,"v":0.0825},{"s":"b","d":301,"v":0.063},{"s":"b","d":316,"v":0.0605},{"s":"b","d":331,"v":0.059},{"s":"b","d":346,"v":0.059},{"s":"b","d":361,"v":0.061},
{"s":"c","d":1,"v":0.0675},{"s":"c","d":16,"v":0.063},{"s":"c","d":31,"v":0.0553},{"s":"c","d":46,"v":0.064},{"s":"c","d":61,"v":0.0796},{"s":"c","d":76,"v":0.0957},{"s":"c","d":91,"v":0.1047},{"s":"c","d":106,"v":0.11},{"s":"c","d":121,"v":0.1146},{"s":"c","d":136,"v":0.1135},{"s":"c","d":151,"v":0.109},{"s":"c","d":166,"v":0.105},{"s":"c","d":181,"v":0.101},{"s":"c","d":196,"v":0.097},{"s":"c","d":211,"v":0.093},{"s":"c","d":226,"v":0.089},{"s":"c","d":241,"v":0.0836},{"s":"c","d":256,"v":0.083},{"s":"c","d":271,"v":0.084},{"s":"c","d":286,"v":0.0844},{"s":"c","d":301,"v":0.065},{"s":"c","d":316,"v":0.0626},{"s":"c","d":331,"v":0.061},{"s":"c","d":346,"v":0.0615},{"s":"c","d":361,"v":0.064},
{"s":"d","d":1,"v":0.074},{"s":"d","d":16,"v":0.068},{"s":"d","d":31,"v":0.057},{"s":"d","d":46,"v":0.064},{"s":"d","d":61,"v":0.072},{"s":"d","d":76,"v":0.08},{"s":"d","d":91,"v":0.09},{"s":"d","d":106,"v":0.1},{"s":"d","d":121,"v":0.102},{"s":"d","d":136,"v":0.1},{"s":"d","d":151,"v":0.097},{"s":"d","d":166,"v":0.095},{"s":"d","d":181,"v":0.092},{"s":"d","d":196,"v":0.09},{"s":"d","d":211,"v":0.087},{"s":"d","d":226,"v":0.084},{"s":"d","d":241,"v":0.08},{"s":"d","d":256,"v":0.076},{"s":"d","d":271,"v":0.072},{"s":"d","d":286,"v":0.068},{"s":"d","d":301,"v":0.063},{"s":"d","d":316,"v":0.061},{"s":"d","d":331,"v":0.059},{"s":"d","d":346,"v":0.059},{"s":"d","d":361,"v":0.063},
{"s":"e","d":1,"v":0.06},{"s":"e","d":16,"v":0.056},{"s":"e","d":31,"v":0.052},{"s":"e","d":46,"v":0.056},{"s":"e","d":61,"v":0.062},{"s":"e","d":76,"v":0.068},{"s":"e","d":91,"v":0.073},{"s":"e","d":106,"v":0.0765},{"s":"e","d":121,"v":0.0765},{"s":"e","d":136,"v":0.076},{"s":"e","d":151,"v":0.0755},{"s":"e","d":166,"v":0.075},{"s":"e","d":181,"v":0.0745},{"s":"e","d":196,"v":0.074},{"s":"e","d":211,"v":0.0735},{"s":"e","d":226,"v":0.073},{"s":"e","d":241,"v":0.0725},{"s":"e","d":256,"v":0.069},{"s":"e","d":271,"v":0.0645},{"s":"e","d":286,"v":0.061},{"s":"e","d":301,"v":0.055},{"s":"e","d":316,"v":0.052},{"s":"e","d":331,"v":0.0495},{"s":"e","d":346,"v":0.0495},{"s":"e","d":361,"v":0.0525},
{"s":"f","d":1,"v":0.066},{"s":"f","d":16,"v":0.061},{"s":"f","d":31,"v":0.055},{"s":"f","d":46,"v":0.06},{"s":"f","d":61,"v":0.066},{"s":"f","d":76,"v":0.072},{"s":"f","d":91,"v":0.077},{"s":"f","d":106,"v":0.08},{"s":"f","d":121,"v":0.0795},{"s":"f","d":136,"v":0.079},{"s":"f","d":151,"v":0.078},{"s":"f","d":166,"v":0.0775},{"s":"f","d":181,"v":0.077},{"s":"f","d":196,"v":0.0765},{"s":"f","d":211,"v":0.076},{"s":"f","d":226,"v":0.0755},{"s":"f","d":241,"v":0.075},{"s":"f","d":256,"v":0.072},{"s":"f","d":271,"v":0.069},{"s":"f","d":286,"v":0.066},{"s":"f","d":301,"v":0.061},{"s":"f","d":316,"v":0.059},{"s":"f","d":331,"v":0.058},{"s":"f","d":346,"v":0.058},{"s":"f","d":361,"v":0.061},
{"s":"g","d":1,"v":0.075},{"s":"g","d":16,"v":0.069},{"s":"g","d":31,"v":0.061},{"s":"g","d":46,"v":0.066},{"s":"g","d":61,"v":0.074},{"s":"g","d":76,"v":0.082},{"s":"g","d":91,"v":0.091},{"s":"g","d":106,"v":0.099},{"s":"g","d":121,"v":0.1005},{"s":"g","d":136,"v":0.099},{"s":"g","d":151,"v":0.0965},{"s":"g","d":166,"v":0.094},{"s":"g","d":181,"v":0.092},{"s":"g","d":196,"v":0.0895},{"s":"g","d":211,"v":0.087},{"s":"g","d":226,"v":0.0845},{"s":"g","d":241,"v":0.082},{"s":"g","d":256,"v":0.078},{"s":"g","d":271,"v":0.0735},{"s":"g","d":286,"v":0.0695},{"s":"g","d":301,"v":0.064},{"s":"g","d":316,"v":0.062},{"s":"g","d":331,"v":0.0605},{"s":"g","d":346,"v":0.061},{"s":"g","d":361,"v":0.065}],
"d2e":[{"s":"a","e":0.004},{"s":"b","e":0.005},{"s":"c","e":0.005},{"s":"d","e":0.006},{"s":"e","e":0.006},{"s":"f","e":0.005},{"s":"g","e":0.005}],
"d2a":[{"d":1,"a":0.003},{"d":16,"a":0.002},{"d":31,"a":0},{"d":46,"a":0.002},{"d":61,"a":0.001},{"d":76,"a":0},{"d":91,"a":0},{"d":106,"a":0.052},{"d":121,"a":0.002},{"d":136,"a":0.002},{"d":151,"a":0.024},{"d":166,"a":0.002},{"d":181,"a":0.002},{"d":196,"a":0.003},{"d":211,"a":0.003},{"d":226,"a":0.002},{"d":241,"a":0.002},{"d":256,"a":0.004},{"d":271,"a":0.045},{"d":286,"a":0.002},{"d":301,"a":0.003},{"d":316,"a":0.05},{"d":331,"a":0.002},{"d":346,"a":0.001},{"d":361,"a":0.001}],
"e1":[
{"s":"a","d":1,"v":0.22},{"s":"a","d":16,"v":0.25},{"s":"a","d":31,"v":0.255},{"s":"a","d":46,"v":0.245},{"s":"a","d":61,"v":0.19},{"s":"a","d":76,"v":0.185},{"s":"a","d":91,"v":0.19},{"s":"a","d":106,"v":0.195},{"s":"a","d":121,"v":0.197},{"s":"a","d":136,"v":0.198},{"s":"a","d":151,"v":0.2},{"s":"a","d":166,"v":0.201},{"s":"a","d":181,"v":0.202},{"s":"a","d":196,"v":0.203},{"s":"a","d":211,"v":0.204},{"s":"a","d":226,"v":0.205},{"s":"a","d":241,"v":0.207},{"s":"a","d":256,"v":0.21},{"s":"a","d":271,"v":0.21},{"s":"a","d":286,"v":0.208},{"s":"a","d":301,"v":0.2},{"s":"a","d":316,"v":0.21},{"s":"a","d":331,"v":0.24},{"s":"a","d":346,"v":0.295},{"s":"a","d":361,"v":0},
{"s":"b","d":1,"v":0.18},{"s":"b","d":16,"v":0.215},{"s":"b","d":31,"v":0.21},{"s":"b","d":46,"v":0.195},{"s":"b","d":61,"v":0.16},{"s":"b","d":76,"v":0.145},{"s":"b","d":91,"v":0.148},{"s":"b","d":106,"v":0.152},{"s":"b","d":121,"v":0.155},{"s":"b","d":136,"v":0.157},{"s":"b","d":151,"v":0.159},{"s":"b","d":166,"v":0.16},{"s":"b","d":181,"v":0.161},{"s":"b","d":196,"v":0.162},{"s":"b","d":211,"v":0.163},{"s":"b","d":226,"v":0.164},{"s":"b","d":241,"v":0.165},{"s":"b","d":256,"v":0.167},{"s":"b","d":271,"v":0.16},{"s":"b","d":286,"v":0.152},{"s":"b","d":301,"v":0.148},{"s":"b","d":316,"v":0.16},{"s":"b","d":331,"v":0.19},{"s":"b","d":346,"v":0.235},{"s":"b","d":361,"v":0},
{"s":"c","d":1,"v":0.14},{"s":"c","d":16,"v":0.205},{"s":"c","d":31,"v":0.195},{"s":"c","d":46,"v":0.17},{"s":"c","d":61,"v":0.13},{"s":"c","d":76,"v":0.105},{"s":"c","d":91,"v":0.12},{"s":"c","d":106,"v":0.13},{"s":"c","d":121,"v":0.138},{"s":"c","d":136,"v":0.143},{"s":"c","d":151,"v":0.148},{"s":"c","d":166,"v":0.152},{"s":"c","d":181,"v":0.155},{"s":"c","d":196,"v":0.158},{"s":"c","d":211,"v":0.16},{"s":"c","d":226,"v":0.162},{"s":"c","d":241,"v":0.163},{"s":"c","d":256,"v":0.165},{"s":"c","d":271,"v":0.15},{"s":"c","d":286,"v":0.125},{"s":"c","d":301,"v":0.11},{"s":"c","d":316,"v":0.115},{"s":"c","d":331,"v":0.15},{"s":"c","d":346,"v":0.185},{"s":"c","d":361,"v":0},
{"s":"d","d":1,"v":0.269},{"s":"d","d":16,"v":0.285},{"s":"d","d":31,"v":0.3},{"s":"d","d":46,"v":0.29},{"s":"d","d":61,"v":0.23},{"s":"d","d":76,"v":0.175},{"s":"d","d":91,"v":0.174},{"s":"d","d":106,"v":0.18},{"s":"d","d":121,"v":0.185},{"s":"d","d":136,"v":0.19},{"s":"d","d":151,"v":0.198},{"s":"d","d":166,"v":0.205},{"s":"d","d":181,"v":0.212},{"s":"d","d":196,"v":0.22},{"s":"d","d":211,"v":0.228},{"s":"d","d":226,"v":0.238},{"s":"d","d":241,"v":0.248},{"s":"d","d":256,"v":0.25},{"s":"d","d":271,"v":0.234},{"s":"d","d":286,"v":0.166},{"s":"d","d":301,"v":0.15},{"s":"d","d":316,"v":0.174},{"s":"d","d":331,"v":0.267},{"s":"d","d":346,"v":0.323},{"s":"d","d":361,"v":0.004},
{"s":"e","d":1,"v":0.215},{"s":"e","d":16,"v":0.245},{"s":"e","d":31,"v":0.25},{"s":"e","d":46,"v":0.245},{"s":"e","d":61,"v":0.17},{"s":"e","d":76,"v":0.125},{"s":"e","d":91,"v":0.135},{"s":"e","d":106,"v":0.142},{"s":"e","d":121,"v":0.148},{"s":"e","d":136,"v":0.155},{"s":"e","d":151,"v":0.162},{"s":"e","d":166,"v":0.168},{"s":"e","d":181,"v":0.175},{"s":"e","d":196,"v":0.182},{"s":"e","d":211,"v":0.19},{"s":"e","d":226,"v":0.2},{"s":"e","d":241,"v":0.208},{"s":"e","d":256,"v":0.215},{"s":"e","d":271,"v":0.18},{"s":"e","d":286,"v":0.14},{"s":"e","d":301,"v":0.118},{"s":"e","d":316,"v":0.13},{"s":"e","d":331,"v":0.2},{"s":"e","d":346,"v":0.245},{"s":"e","d":361,"v":0},
{"s":"f","d":1,"v":0.16},{"s":"f","d":16,"v":0.22},{"s":"f","d":31,"v":0.21},{"s":"f","d":46,"v":0.185},{"s":"f","d":61,"v":0.145},{"s":"f","d":76,"v":0.13},{"s":"f","d":91,"v":0.14},{"s":"f","d":106,"v":0.148},{"s":"f","d":121,"v":0.153},{"s":"f","d":136,"v":0.157},{"s":"f","d":151,"v":0.162},{"s":"f","d":166,"v":0.165},{"s":"f","d":181,"v":0.168},{"s":"f","d":196,"v":0.17},{"s":"f","d":211,"v":0.172},{"s":"f","d":226,"v":0.175},{"s":"f","d":241,"v":0.178},{"s":"f","d":256,"v":0.185},{"s":"f","d":271,"v":0.16},{"s":"f","d":286,"v":0.135},{"s":"f","d":301,"v":0.125},{"s":"f","d":316,"v":0.135},{"s":"f","d":331,"v":0.18},{"s":"f","d":346,"v":0.24},{"s":"f","d":361,"v":0},
{"s":"g","d":1,"v":0.175},{"s":"g","d":16,"v":0.235},{"s":"g","d":31,"v":0.23},{"s":"g","d":46,"v":0.21},{"s":"g","d":61,"v":0.15},{"s":"g","d":76,"v":0.11},{"s":"g","d":91,"v":0.12},{"s":"g","d":106,"v":0.13},{"s":"g","d":121,"v":0.138},{"s":"g","d":136,"v":0.143},{"s":"g","d":151,"v":0.15},{"s":"g","d":166,"v":0.155},{"s":"g","d":181,"v":0.16},{"s":"g","d":196,"v":0.165},{"s":"g","d":211,"v":0.17},{"s":"g","d":226,"v":0.177},{"s":"g","d":241,"v":0.185},{"s":"g","d":256,"v":0.195},{"s":"g","d":271,"v":0.16},{"s":"g","d":286,"v":0.125},{"s":"g","d":301,"v":0.108},{"s":"g","d":316,"v":0.118},{"s":"g","d":331,"v":0.175},{"s":"g","d":346,"v":0.21},{"s":"g","d":361,"v":0}],
"e1e":[{"s":"a","e":0.012},{"s":"b","e":0.01},{"s":"c","e":0.01},{"s":"d","e":0.015},{"s":"e","e":0.012},{"s":"f","e":0.01},{"s":"g","e":0.012}],
"e1a":[{"d":1,"a":0.003},{"d":16,"a":0.022},{"d":31,"a":0.002},{"d":46,"a":0.002},{"d":61,"a":0.002},{"d":76,"a":0.019},{"d":91,"a":0},{"d":106,"a":0.002},{"d":121,"a":0},{"d":136,"a":0},{"d":151,"a":0},{"d":166,"a":0},{"d":181,"a":0},{"d":196,"a":0.003},{"d":211,"a":0.003},{"d":226,"a":0.003},{"d":241,"a":0.003},{"d":256,"a":0.003},{"d":271,"a":0.042},{"d":286,"a":0.001},{"d":301,"a":0.035},{"d":316,"a":0.003},{"d":331,"a":0.002},{"d":346,"a":0.002},{"d":361,"a":0.003}],
"e2":[
{"s":"a","d":1,"v":0.207},{"s":"a","d":16,"v":0.209},{"s":"a","d":31,"v":0.211},{"s":"a","d":46,"v":0.218},{"s":"a","d":61,"v":0.225},{"s":"a","d":76,"v":0.232},{"s":"a","d":91,"v":0.239},{"s":"a","d":106,"v":0.246},{"s":"a","d":121,"v":0.252},{"s":"a","d":136,"v":0.258},{"s":"a","d":151,"v":0.264},{"s":"a","d":166,"v":0.27},{"s":"a","d":181,"v":0.276},{"s":"a","d":196,"v":0.282},{"s":"a","d":211,"v":0.288},{"s":"a","d":226,"v":0.295},{"s":"a","d":241,"v":0.302},{"s":"a","d":256,"v":0.31},{"s":"a","d":271,"v":0.305},{"s":"a","d":286,"v":0.295},{"s":"a","d":301,"v":0.278},{"s":"a","d":316,"v":0.252},{"s":"a","d":331,"v":0.245},{"s":"a","d":346,"v":0.238},{"s":"a","d":361,"v":0.228},
{"s":"b","d":1,"v":0.229},{"s":"b","d":16,"v":0.227},{"s":"b","d":31,"v":0.225},{"s":"b","d":46,"v":0.23},{"s":"b","d":61,"v":0.236},{"s":"b","d":76,"v":0.242},{"s":"b","d":91,"v":0.248},{"s":"b","d":106,"v":0.254},{"s":"b","d":121,"v":0.26},{"s":"b","d":136,"v":0.265},{"s":"b","d":151,"v":0.27},{"s":"b","d":166,"v":0.275},{"s":"b","d":181,"v":0.28},{"s":"b","d":196,"v":0.285},{"s":"b","d":211,"v":0.291},{"s":"b","d":226,"v":0.297},{"s":"b","d":241,"v":0.304},{"s":"b","d":256,"v":0.31},{"s":"b","d":271,"v":0.312},{"s":"b","d":286,"v":0.313},{"s":"b","d":301,"v":0.31},{"s":"b","d":316,"v":0.262},{"s":"b","d":331,"v":0.255},{"s":"b","d":346,"v":0.245},{"s":"b","d":361,"v":0.235},
{"s":"c","d":1,"v":0.211},{"s":"c","d":16,"v":0.21},{"s":"c","d":31,"v":0.21},{"s":"c","d":46,"v":0.222},{"s":"c","d":61,"v":0.232},{"s":"c","d":76,"v":0.241},{"s":"c","d":91,"v":0.249},{"s":"c","d":106,"v":0.255},{"s":"c","d":121,"v":0.26},{"s":"c","d":136,"v":0.265},{"s":"c","d":151,"v":0.27},{"s":"c","d":166,"v":0.276},{"s":"c","d":181,"v":0.28},{"s":"c","d":196,"v":0.285},{"s":"c","d":211,"v":0.29},{"s":"c","d":226,"v":0.298},{"s":"c","d":241,"v":0.305},{"s":"c","d":256,"v":0.31},{"s":"c","d":271,"v":0.308},{"s":"c","d":286,"v":0.305},{"s":"c","d":301,"v":0.29},{"s":"c","d":316,"v":0.258},{"s":"c","d":331,"v":0.252},{"s":"c","d":346,"v":0.244},{"s":"c","d":361,"v":0.232},
{"s":"d","d":1,"v":0.217},{"s":"d","d":16,"v":0.215},{"s":"d","d":31,"v":0.214},{"s":"d","d":46,"v":0.225},{"s":"d","d":61,"v":0.234},{"s":"d","d":76,"v":0.243},{"s":"d","d":91,"v":0.252},{"s":"d","d":106,"v":0.26},{"s":"d","d":121,"v":0.265},{"s":"d","d":136,"v":0.27},{"s":"d","d":151,"v":0.276},{"s":"d","d":166,"v":0.28},{"s":"d","d":181,"v":0.285},{"s":"d","d":196,"v":0.29},{"s":"d","d":211,"v":0.296},{"s":"d","d":226,"v":0.302},{"s":"d","d":241,"v":0.308},{"s":"d","d":256,"v":0.31},{"s":"d","d":271,"v":0.306},{"s":"d","d":286,"v":0.3},{"s":"d","d":301,"v":0.29},{"s":"d","d":316,"v":0.262},{"s":"d","d":331,"v":0.256},{"s":"d","d":346,"v":0.248},{"s":"d","d":361,"v":0.238},
{"s":"e","d":1,"v":0.19},{"s":"e","d":16,"v":0.191},{"s":"e","d":31,"v":0.192},{"s":"e","d":46,"v":0.2},{"s":"e","d":61,"v":0.208},{"s":"e","d":76,"v":0.216},{"s":"e","d":91,"v":0.224},{"s":"e","d":106,"v":0.232},{"s":"e","d":121,"v":0.24},{"s":"e","d":136,"v":0.248},{"s":"e","d":151,"v":0.255},{"s":"e","d":166,"v":0.262},{"s":"e","d":181,"v":0.27},{"s":"e","d":196,"v":0.277},{"s":"e","d":211,"v":0.283},{"s":"e","d":226,"v":0.29},{"s":"e","d":241,"v":0.298},{"s":"e","d":256,"v":0.303},{"s":"e","d":271,"v":0.29},{"s":"e","d":286,"v":0.28},{"s":"e","d":301,"v":0.27},{"s":"e","d":316,"v":0.245},{"s":"e","d":331,"v":0.233},{"s":"e","d":346,"v":0.22},{"s":"e","d":361,"v":0.207},
{"s":"f","d":1,"v":0.22},{"s":"f","d":16,"v":0.222},{"s":"f","d":31,"v":0.222},{"s":"f","d":46,"v":0.227},{"s":"f","d":61,"v":0.233},{"s":"f","d":76,"v":0.238},{"s":"f","d":91,"v":0.243},{"s":"f","d":106,"v":0.25},{"s":"f","d":121,"v":0.257},{"s":"f","d":136,"v":0.263},{"s":"f","d":151,"v":0.268},{"s":"f","d":166,"v":0.274},{"s":"f","d":181,"v":0.279},{"s":"f","d":196,"v":0.284},{"s":"f","d":211,"v":0.289},{"s":"f","d":226,"v":0.294},{"s":"f","d":241,"v":0.3},{"s":"f","d":256,"v":0.303},{"s":"f","d":271,"v":0.295},{"s":"f","d":286,"v":0.285},{"s":"f","d":301,"v":0.275},{"s":"f","d":316,"v":0.262},{"s":"f","d":331,"v":0.258},{"s":"f","d":346,"v":0.254},{"s":"f","d":361,"v":0.247},
{"s":"g","d":1,"v":0.23},{"s":"g","d":16,"v":0.228},{"s":"g","d":31,"v":0.226},{"s":"g","d":46,"v":0.232},{"s":"g","d":61,"v":0.24},{"s":"g","d":76,"v":0.248},{"s":"g","d":91,"v":0.255},{"s":"g","d":106,"v":0.262},{"s":"g","d":121,"v":0.268},{"s":"g","d":136,"v":0.273},{"s":"g","d":151,"v":0.278},{"s":"g","d":166,"v":0.283},{"s":"g","d":181,"v":0.288},{"s":"g","d":196,"v":0.293},{"s":"g","d":211,"v":0.298},{"s":"g","d":226,"v":0.303},{"s":"g","d":241,"v":0.308},{"s":"g","d":256,"v":0.313},{"s":"g","d":271,"v":0.313},{"s":"g","d":286,"v":0.311},{"s":"g","d":301,"v":0.295},{"s":"g","d":316,"v":0.278},{"s":"g","d":331,"v":0.271},{"s":"g","d":346,"v":0.265},{"s":"g","d":361,"v":0.258}],
"e2e":[{"s":"a","e":0.01},{"s":"b","e":0.012},{"s":"c","e":0.012},{"s":"d","e":0.013},{"s":"e","e":0.018},{"s":"f","e":0.013},{"s":"g","e":0.013}],
"e2a":[{"d":1,"a":0.005},{"d":16,"a":0.001},{"d":31,"a":0.005},{"d":46,"a":0.001},{"d":61,"a":0.032},{"d":76,"a":0},{"d":91,"a":0.002},{"d":106,"a":0.001},{"d":121,"a":0.002},{"d":136,"a":0.002},{"d":151,"a":0.002},{"d":166,"a":0.002},{"d":181,"a":0.002},{"d":196,"a":0.003},{"d":211,"a":0.003},{"d":226,"a":0.002},{"d":241,"a":0.02},{"d":256,"a":0.004},{"d":271,"a":0.039},{"d":286,"a":0.002},{"d":301,"a":0.002},{"d":316,"a":0.014},{"d":331,"a":0.002},{"d":346,"a":0.001},{"d":361,"a":0.001}],
"a1":[
{"t":"Larch","ph":"Leaf off","x1":-6.5,"x2":120},{"t":"Larch","ph":"Greenness rise","x1":120,"x2":151.5},{"t":"Larch","ph":"Leaf on","x1":151.5,"x2":255},{"t":"Larch","ph":"Greenness fall","x1":255,"x2":307},{"t":"Larch","ph":"Leaf off","x1":307,"x2":368.5},
{"t":"Korean pine","ph":"Leaf on","x1":-6.5,"x2":129.7},{"t":"Korean pine","ph":"Greenness rise","x1":129.7,"x2":179.8},{"t":"Korean pine","ph":"Leaf on","x1":179.8,"x2":368.5},
{"t":"Mongolian Pine","ph":"Leaf on","x1":-6.5,"x2":118.5},{"t":"Mongolian Pine","ph":"Greenness rise","x1":118.5,"x2":137},{"t":"Mongolian Pine","ph":"Leaf on","x1":137,"x2":368.5},
{"t":"Mongolian oak","ph":"Leaf off","x1":-6.5,"x2":121.4},{"t":"Mongolian oak","ph":"Greenness rise","x1":121.4,"x2":133.6},{"t":"Mongolian oak","ph":"Leaf on","x1":133.6,"x2":233.3},{"t":"Mongolian oak","ph":"Greenness fall","x1":233.3,"x2":286.8},{"t":"Mongolian oak","ph":"Leaf off","x1":286.8,"x2":368.5}],
"a2":[
{"t":"Oak","ph":"Leaf off","x1":-6.5,"x2":55.5},{"t":"Oak","ph":"Greenness rise","x1":55.5,"x2":96},{"t":"Oak","ph":"Leaf on","x1":96,"x2":319.7},{"t":"Oak","ph":"Greenness fall","x1":319.7,"x2":352.4},{"t":"Oak","ph":"Leaf off","x1":352.4,"x2":368.5},
{"t":"Cedar","ph":"Leaf on","x1":-6.5,"x2":38.9},{"t":"Cedar","ph":"Greenness rise","x1":38.9,"x2":86.3},{"t":"Cedar","ph":"Leaf on","x1":86.3,"x2":337.7},{"t":"Cedar","ph":"Greenness fall","x1":337.7,"x2":356.3},{"t":"Cedar","ph":"Leaf on","x1":356.3,"x2":368.5},
{"t":"Pine","ph":"Leaf on","x1":-6.5,"x2":85.3},{"t":"Pine","ph":"Greenness rise","x1":85.3,"x2":148.8},{"t":"Pine","ph":"Leaf on","x1":148.8,"x2":368.5},
{"t":"Eucalyptus","ph":"Leaf on","x1":-6.5,"x2":75.5},{"t":"Eucalyptus","ph":"Greenness rise","x1":75.5,"x2":102.4},{"t":"Eucalyptus","ph":"Leaf on","x1":102.4,"x2":368.5},
{"t":"Bamboo","ph":"Leaf on","x1":-6.5,"x2":55.5},{"t":"Bamboo","ph":"Greenness rise","x1":55.5,"x2":108.3},{"t":"Bamboo","ph":"Leaf on","x1":108.3,"x2":368.5}]
},
"hconcat":[
{"vconcat":[
 {"width":257,"height":79,
  "title":{"text":"(a1)","anchor":"start","frame":"group","offset":0,"dx":-52,"dy":42,"baseline":"bottom"},
  "data":{"name":"a1"},
  "mark":{"type":"bar"},
  "encoding":{
   "y":{"field":"t","type":"nominal","sort":null,"scale":{"paddingInner":0.13,"paddingOuter":0.1,"align":0},"axis":{"title":null,"labelAlign":"left","labelPadding":-5,"tickSize":0,"zindex":1,"labelFontSize":12.5,"labelColor":"#1a1a1a","labelBaseline":"middle"}},
   "x":{"field":"x1","type":"quantitative","scale":{"domain":[-6.5,368.5],"nice":false,"zero":false},"axis":{"values":[1,16,31,46,61,76,91,106,121,136,151,166,181,196,211,226,241,256,271,286,301,316,331,346,361],"labelAngle":-90,"labelFontSize":8.5,"domain":true,"domainColor":"#808080","ticks":true,"tickSize":2,"tickColor":"#808080","labelPadding":2,"title":null}},
   "x2":{"field":"x2"},
   "fill":{"field":"ph","type":"nominal","scale":{"domain":["Greenness rise","Leaf on","Greenness fall","Leaf off","Attention"],"range":["#c6e0b4","#6aab45","#ffe699","#f8c08e","#a6a6a6"]},
     "legend":{"orient":"none","legendX":0,"legendY":959,"direction":"horizontal","title":null,"symbolType":"square","symbolSize":110,"symbolStrokeColor":"#404040","symbolStrokeWidth":1,"symbolOpacity":1,"labelFontSize":18,"labelOffset":6,"columnPadding":4,"gridAlign":"all","padding":0}}
  }},
 {"vconcat":[
  {"width":257,"height":165,"title":{"text":"(b1)","anchor":"start","frame":"group","offset":0,"dx":-52,"dy":41,"baseline":"bottom"},
   "encoding":{"x":{"field":"d","type":"quantitative","scale":{"domain":[-6.5,368.5],"nice":false,"zero":false},"axis":{"values":[1,31,61,91,121,151,181,211,241,271,301,331,361],"title":"Day of year","labelPadding":7,"titlePadding":2}}},
   "layer":[
    {"data":{"name":"b1a"},"mark":{"type":"bar","size":4,"color":"#bfbfbf"},"encoding":{"y":{"field":"a","type":"quantitative","scale":{"domain":[0,0.2]},"axis":{"orient":"right","values":[0,0.04,0.08,0.12,0.16,0.2],"format":"~g","title":"Attention","labelPadding":6,"titlePadding":5}}}},
    {"data":{"name":"b1"},"transform":[{"lookup":"s","from":{"data":{"name":"b1e"},"key":"s","fields":["e"]}}],
     "encoding":{"y":{"field":"v","type":"quantitative","scale":{"domain":[0,0.9],"clamp":true},"axis":{"values":[0,0.1,0.2,0.3,0.4,0.5,0.6,0.7,0.8,0.9],"format":"~g","title":"NDVI","labelPadding":12,"titlePadding":4}},
      "color":{"field":"s","type":"nominal","scale":{"domain":["a","b","c","d","e","f","g"]},"legend":{"orient":"none","legendX":7,"legendY":913,"columns":3,"direction":"horizontal","title":null,"symbolType":"stroke","symbolSize":200,"symbolStrokeWidth":2,"labelFontSize":12,"labelOffset":4,"rowPadding":0,"columnPadding":4,"gridAlign":"all","padding":0,"labelExpr":"datum.label=='a'?'Korean pine':datum.label=='b'?'Mongolian pine':datum.label=='c'?'Larch':datum.label=='d'?'Mongolian oak':datum.label=='e'?'BMF':datum.label=='f'?'CMF':'CBMF'"}}},
     "layer":[{"mark":{"type":"errorbar","ticks":{"size":4},"thickness":1},"encoding":{"yError":{"field":"e"}}},{"mark":{"type":"line","interpolate":"monotone","strokeWidth":1.8}}]}
   ],
   "resolve":{"scale":{"y":"independent"}}},
  {"width":257,"height":165,"title":{"text":"(c1)","anchor":"start","frame":"group","offset":0,"dx":-52,"dy":41,"baseline":"bottom"},
   "encoding":{"x":{"field":"d","type":"quantitative","scale":{"domain":[-6.5,368.5],"nice":false,"zero":false},"axis":{"values":[1,31,61,91,121,151,181,211,241,271,301,331,361],"title":"Day of year","labelPadding":7,"titlePadding":2}}},
   "layer":[
    {"data":{"name":"c1a"},"mark":{"type":"bar","size":4,"color":"#bfbfbf"},"encoding":{"y":{"field":"a","type":"quantitative","scale":{"domain":[0,0.2]},"axis":{"orient":"right","values":[0,0.04,0.08,0.12,0.16,0.2],"format":"~g","title":"Attention","labelPadding":6,"titlePadding":5}}}},
    {"data":{"name":"c1"},"transform":[{"lookup":"s","from":{"data":{"name":"c1e"},"key":"s","fields":["e"]}}],
     "encoding":{"y":{"field":"v","type":"quantitative","scale":{"domain":[0,14],"clamp":true},"axis":{"values":[0,2,4,6,8,10,12,14],"format":"~g","title":"RVI","labelPadding":13,"titlePadding":4}},
      "color":{"field":"s","type":"nominal","scale":{"domain":["a","b","c","d","e","f","g"]},"legend":{"orient":"none","legendX":7,"legendY":913,"columns":3,"direction":"horizontal","title":null,"symbolType":"stroke","symbolSize":200,"symbolStrokeWidth":2,"labelFontSize":12,"labelOffset":4,"rowPadding":0,"columnPadding":4,"gridAlign":"all","padding":0,"labelExpr":"datum.label=='a'?'Korean pine':datum.label=='b'?'Mongolian pine':datum.label=='c'?'Larch':datum.label=='d'?'Mongolian oak':datum.label=='e'?'BMF':datum.label=='f'?'CMF':'CBMF'"}}},
     "layer":[{"mark":{"type":"errorbar","ticks":{"size":4},"thickness":1},"encoding":{"yError":{"field":"e"}}},{"mark":{"type":"line","interpolate":"monotone","strokeWidth":1.8}}]}
   ],
   "resolve":{"scale":{"y":"independent"}}},
  {"width":257,"height":165,"title":{"text":"(d1)","anchor":"start","frame":"group","offset":0,"dx":-52,"dy":41,"baseline":"bottom"},
   "encoding":{"x":{"field":"d","type":"quantitative","scale":{"domain":[-6.5,368.5],"nice":false,"zero":false},"axis":{"values":[1,31,61,91,121,151,181,211,241,271,301,331,361],"title":"Day of year","labelPadding":7,"titlePadding":2}}},
   "layer":[
    {"data":{"name":"d1a"},"mark":{"type":"bar","size":4,"color":"#bfbfbf"},"encoding":{"y":{"field":"a","type":"quantitative","scale":{"domain":[0,0.2]},"axis":{"orient":"right","values":[0,0.04,0.08,0.12,0.16,0.2],"format":"~g","title":"Attention","labelPadding":6,"titlePadding":5}}}},
    {"data":{"name":"d1"},"transform":[{"lookup":"s","from":{"data":{"name":"d1e"},"key":"s","fields":["e"]}}],
     "encoding":{"y":{"field":"v","type":"quantitative","scale":{"domain":[0,0.3],"clamp":true},"axis":{"values":[0,0.1,0.2,0.3],"format":"~g","title":"Band 3 (Green)","labelPadding":7,"titlePadding":6}},
      "color":{"field":"s","type":"nominal","scale":{"domain":["a","b","c","d","e","f","g"]},"legend":{"orient":"none","legendX":7,"legendY":913,"columns":3,"direction":"horizontal","title":null,"symbolType":"stroke","symbolSize":200,"symbolStrokeWidth":2,"labelFontSize":12,"labelOffset":4,"rowPadding":0,"columnPadding":4,"gridAlign":"all","padding":0,"labelExpr":"datum.label=='a'?'Korean pine':datum.label=='b'?'Mongolian pine':datum.label=='c'?'Larch':datum.label=='d'?'Mongolian oak':datum.label=='e'?'BMF':datum.label=='f'?'CMF':'CBMF'"}}},
     "layer":[{"mark":{"type":"errorbar","ticks":{"size":4},"thickness":1},"encoding":{"yError":{"field":"e"}}},{"mark":{"type":"line","interpolate":"monotone","strokeWidth":1.8}}]}
   ],
   "resolve":{"scale":{"y":"independent"}}},
  {"width":257,"height":165,"title":{"text":"(e1)","anchor":"start","frame":"group","offset":0,"dx":-52,"dy":41,"baseline":"bottom"},
   "encoding":{"x":{"field":"d","type":"quantitative","scale":{"domain":[-6.5,368.5],"nice":false,"zero":false},"axis":{"values":[1,31,61,91,121,151,181,211,241,271,301,331,361],"title":"Day of year","labelPadding":7,"titlePadding":2}}},
   "layer":[
    {"data":{"name":"e1a"},"mark":{"type":"bar","size":4,"color":"#bfbfbf"},"encoding":{"y":{"field":"a","type":"quantitative","scale":{"domain":[0,0.2]},"axis":{"orient":"right","values":[0,0.04,0.08,0.12,0.16,0.2],"format":"~g","title":"Attention","labelPadding":6,"titlePadding":5}}}},
    {"data":{"name":"e1"},"transform":[{"lookup":"s","from":{"data":{"name":"e1e"},"key":"s","fields":["e"]}}],
     "encoding":{"y":{"field":"v","type":"quantitative","scale":{"domain":[0,0.4],"clamp":true},"axis":{"values":[0,0.1,0.2,0.3,0.4],"format":"~g","title":"Band 8 (NIR)","labelPadding":12,"titlePadding":4}},
      "color":{"field":"s","type":"nominal","scale":{"domain":["a","b","c","d","e","f","g"]},"legend":{"orient":"none","legendX":7,"legendY":913,"columns":3,"direction":"horizontal","title":null,"symbolType":"stroke","symbolSize":200,"symbolStrokeWidth":2,"labelFontSize":12,"labelOffset":4,"rowPadding":0,"columnPadding":4,"gridAlign":"all","padding":0,"labelExpr":"datum.label=='a'?'Korean pine':datum.label=='b'?'Mongolian pine':datum.label=='c'?'Larch':datum.label=='d'?'Mongolian oak':datum.label=='e'?'BMF':datum.label=='f'?'CMF':'CBMF'"}}},
     "layer":[{"mark":{"type":"errorbar","ticks":{"size":4},"thickness":1},"encoding":{"yError":{"field":"e"}}},{"mark":{"type":"line","interpolate":"monotone","strokeWidth":1.8}}]}
   ],
   "resolve":{"scale":{"y":"independent"}}}
 ],"spacing":40,"bounds":"flush"}
],"spacing":20,"bounds":"flush"},
{"vconcat":[
 {"width":259,"height":79,
  "title":{"text":"(a2)","anchor":"start","frame":"group","offset":0,"dx":-51,"dy":42,"baseline":"bottom"},
  "data":{"name":"a2"},
  "mark":{"type":"bar"},
  "encoding":{
   "y":{"field":"t","type":"nominal","sort":null,"scale":{"paddingInner":0.08,"paddingOuter":0.2,"align":0},"axis":{"title":null,"labelAlign":"left","labelPadding":-3,"tickSize":0,"zindex":1,"labelFontSize":12.5,"labelColor":"#1a1a1a","labelBaseline":"middle"}},
   "x":{"field":"x1","type":"quantitative","scale":{"domain":[-6.5,368.5],"nice":false,"zero":false},"axis":{"values":[1,16,31,46,61,76,91,106,121,136,151,166,181,196,211,226,241,256,271,286,301,316,331,346,361],"labelAngle":-90,"labelFontSize":8.5,"domain":true,"domainColor":"#808080","ticks":true,"tickSize":2,"tickColor":"#808080","labelPadding":2,"title":null}},
   "x2":{"field":"x2"},
   "fill":{"field":"ph","type":"nominal","scale":{"domain":["Greenness rise","Leaf on","Greenness fall","Leaf off","Attention"],"range":["#c6e0b4","#6aab45","#ffe699","#f8c08e","#a6a6a6"]},
     "legend":{"orient":"none","legendX":0,"legendY":959,"direction":"horizontal","title":null,"symbolType":"square","symbolSize":110,"symbolStrokeColor":"#404040","symbolStrokeWidth":1,"symbolOpacity":1,"labelFontSize":18,"labelOffset":6,"columnPadding":4,"gridAlign":"all","padding":0}}
  }},
 {"vconcat":[
  {"width":259,"height":165,"view":{"stroke":"#d9d9d9"},"title":{"text":"(b2)","anchor":"start","frame":"group","offset":0,"dx":-51,"dy":41,"baseline":"bottom"},
   "encoding":{"x":{"field":"d","type":"quantitative","scale":{"domain":[-6.5,368.5],"nice":false,"zero":false},"axis":{"values":[1,31,61,91,121,151,181,211,241,271,301,331,361],"title":"Day of year","labelPadding":7,"titlePadding":2}}},
   "layer":[
    {"data":{"name":"b2a"},"mark":{"type":"bar","size":4,"color":"#bfbfbf"},"encoding":{"y":{"field":"a","type":"quantitative","scale":{"domain":[0,0.2]},"axis":{"orient":"right","values":[0,0.04,0.08,0.12,0.16,0.2],"format":"~g","title":"Attention","labelPadding":6,"titlePadding":1}}}},
    {"data":{"name":"b2"},"transform":[{"lookup":"s","from":{"data":{"name":"b2e"},"key":"s","fields":["e"]}}],
     "encoding":{"y":{"field":"v","type":"quantitative","scale":{"domain":[0.4,0.9],"clamp":true},"axis":{"values":[0.4,0.5,0.6,0.7,0.8,0.9],"format":"~g","title":"NDVI","labelPadding":9,"titlePadding":3}},
      "color":{"field":"s","type":"nominal","scale":{"domain":["a","b","c","d","e","f","g"]},"legend":{"orient":"none","legendX":13,"legendY":913,"columns":3,"direction":"horizontal","title":null,"symbolType":"stroke","symbolSize":200,"symbolStrokeWidth":2,"labelFontSize":12,"labelOffset":4,"rowPadding":0,"columnPadding":13,"gridAlign":"all","padding":0,"labelExpr":"datum.label=='a'?'Broad-leaved':datum.label=='b'?'Oak':datum.label=='c'?'Cedar':datum.label=='d'?'Fruit trees':datum.label=='e'?'Pine':datum.label=='f'?'Eucalyptus':'Bamboo'"}}},
     "layer":[{"mark":{"type":"errorbar","ticks":{"size":4},"thickness":1},"encoding":{"yError":{"field":"e"}}},{"mark":{"type":"line","interpolate":"monotone","strokeWidth":1.8}}]}
   ],
   "resolve":{"scale":{"y":"independent"}}},
  {"width":259,"height":165,"view":{"stroke":"#d9d9d9"},"title":{"text":"(c2)","anchor":"start","frame":"group","offset":0,"dx":-51,"dy":41,"baseline":"bottom"},
   "encoding":{"x":{"field":"d","type":"quantitative","scale":{"domain":[-6.5,368.5],"nice":false,"zero":false},"axis":{"values":[1,31,61,91,121,151,181,211,241,271,301,331,361],"title":"Day of year","labelPadding":7,"titlePadding":2}}},
   "layer":[
    {"data":{"name":"c2a"},"mark":{"type":"bar","size":4,"color":"#bfbfbf"},"encoding":{"y":{"field":"a","type":"quantitative","scale":{"domain":[0,0.2]},"axis":{"orient":"right","values":[0,0.04,0.08,0.12,0.16,0.2],"format":"~g","title":"Attention","labelPadding":6,"titlePadding":1}}}},
    {"data":{"name":"c2"},"transform":[{"lookup":"s","from":{"data":{"name":"c2e"},"key":"s","fields":["e"]}}],
     "encoding":{"y":{"field":"v","type":"quantitative","scale":{"domain":[0,18],"clamp":true},"axis":{"values":[0,2,4,6,8,10,12,14,16,18],"format":"~g","title":"RVI","labelPadding":11,"titlePadding":5}},
      "color":{"field":"s","type":"nominal","scale":{"domain":["a","b","c","d","e","f","g"]},"legend":{"orient":"none","legendX":13,"legendY":913,"columns":3,"direction":"horizontal","title":null,"symbolType":"stroke","symbolSize":200,"symbolStrokeWidth":2,"labelFontSize":12,"labelOffset":4,"rowPadding":0,"columnPadding":13,"gridAlign":"all","padding":0,"labelExpr":"datum.label=='a'?'Broad-leaved':datum.label=='b'?'Oak':datum.label=='c'?'Cedar':datum.label=='d'?'Fruit trees':datum.label=='e'?'Pine':datum.label=='f'?'Eucalyptus':'Bamboo'"}}},
     "layer":[{"mark":{"type":"errorbar","ticks":{"size":4},"thickness":1},"encoding":{"yError":{"field":"e"}}},{"mark":{"type":"line","interpolate":"monotone","strokeWidth":1.8}}]}
   ],
   "resolve":{"scale":{"y":"independent"}}},
  {"width":259,"height":165,"view":{"stroke":"#d9d9d9"},"title":{"text":"(d2)","anchor":"start","frame":"group","offset":0,"dx":-51,"dy":41,"baseline":"bottom"},
   "encoding":{"x":{"field":"d","type":"quantitative","scale":{"domain":[-6.5,368.5],"nice":false,"zero":false},"axis":{"values":[1,31,61,91,121,151,181,211,241,271,301,331,361],"title":"Day of year","labelPadding":7,"titlePadding":2}}},
   "layer":[
    {"data":{"name":"d2a"},"mark":{"type":"bar","size":4,"color":"#bfbfbf"},"encoding":{"y":{"field":"a","type":"quantitative","scale":{"domain":[0,0.2]},"axis":{"orient":"right","values":[0,0.04,0.08,0.12,0.16,0.2],"format":"~g","title":"Attention","labelPadding":6,"titlePadding":1}}}},
    {"data":{"name":"d2"},"transform":[{"lookup":"s","from":{"data":{"name":"d2e"},"key":"s","fields":["e"]}}],
     "encoding":{"y":{"field":"v","type":"quantitative","scale":{"domain":[0.04,0.12],"clamp":true},"axis":{"values":[0.04,0.05,0.06,0.07,0.08,0.09,0.1,0.11,0.12],"format":"~g","title":"Band 5 (Red edge)","labelPadding":4,"titlePadding":3}},
      "color":{"field":"s","type":"nominal","scale":{"domain":["a","b","c","d","e","f","g"]},"legend":{"orient":"none","legendX":13,"legendY":913,"columns":3,"direction":"horizontal","title":null,"symbolType":"stroke","symbolSize":200,"symbolStrokeWidth":2,"labelFontSize":12,"labelOffset":4,"rowPadding":0,"columnPadding":13,"gridAlign":"all","padding":0,"labelExpr":"datum.label=='a'?'Broad-leaved':datum.label=='b'?'Oak':datum.label=='c'?'Cedar':datum.label=='d'?'Fruit trees':datum.label=='e'?'Pine':datum.label=='f'?'Eucalyptus':'Bamboo'"}}},
     "layer":[{"mark":{"type":"errorbar","ticks":{"size":4},"thickness":1},"encoding":{"yError":{"field":"e"}}},{"mark":{"type":"line","interpolate":"monotone","strokeWidth":1.8}}]}
   ],
   "resolve":{"scale":{"y":"independent"}}},
  {"width":259,"height":165,"view":{"stroke":"#d9d9d9"},"title":{"text":"(e2)","anchor":"start","frame":"group","offset":0,"dx":-51,"dy":41,"baseline":"bottom"},
   "encoding":{"x":{"field":"d","type":"quantitative","scale":{"domain":[-6.5,368.5],"nice":false,"zero":false},"axis":{"values":[1,31,61,91,121,151,181,211,241,271,301,331,361],"title":"Day of year","labelPadding":7,"titlePadding":2}}},
   "layer":[
    {"data":{"name":"e2a"},"mark":{"type":"bar","size":4,"color":"#bfbfbf"},"encoding":{"y":{"field":"a","type":"quantitative","scale":{"domain":[0,0.2]},"axis":{"orient":"right","values":[0,0.04,0.08,0.12,0.16,0.2],"format":"~g","title":"Attention","labelPadding":6,"titlePadding":1}}}},
    {"data":{"name":"e2"},"transform":[{"lookup":"s","from":{"data":{"name":"e2e"},"key":"s","fields":["e"]}}],
     "encoding":{"y":{"field":"v","type":"quantitative","scale":{"domain":[0.18,0.34],"clamp":true},"axis":{"values":[0.18,0.2,0.22,0.24,0.26,0.28,0.3,0.32,0.34],"format":"~g","title":"Band 8 (NIR)","labelPadding":4,"titlePadding":3}},
      "color":{"field":"s","type":"nominal","scale":{"domain":["a","b","c","d","e","f","g"]},"legend":{"orient":"none","legendX":13,"legendY":913,"columns":3,"direction":"horizontal","title":null,"symbolType":"stroke","symbolSize":200,"symbolStrokeWidth":2,"labelFontSize":12,"labelOffset":4,"rowPadding":0,"columnPadding":13,"gridAlign":"all","padding":0,"labelExpr":"datum.label=='a'?'Broad-leaved':datum.label=='b'?'Oak':datum.label=='c'?'Cedar':datum.label=='d'?'Fruit trees':datum.label=='e'?'Pine':datum.label=='f'?'Eucalyptus':'Bamboo'"}}},
     "layer":[{"mark":{"type":"errorbar","ticks":{"size":4},"thickness":1},"encoding":{"yError":{"field":"e"}}},{"mark":{"type":"line","interpolate":"monotone","strokeWidth":1.8}}]}
   ],
   "resolve":{"scale":{"y":"independent"}}}
 ],"spacing":40,"bounds":"flush"}
],"spacing":20,"bounds":"flush"}
],
"spacing":344,"bounds":"flush",
"resolve":{"scale":{"color":"independent"},"legend":{"color":"independent"}}
}
